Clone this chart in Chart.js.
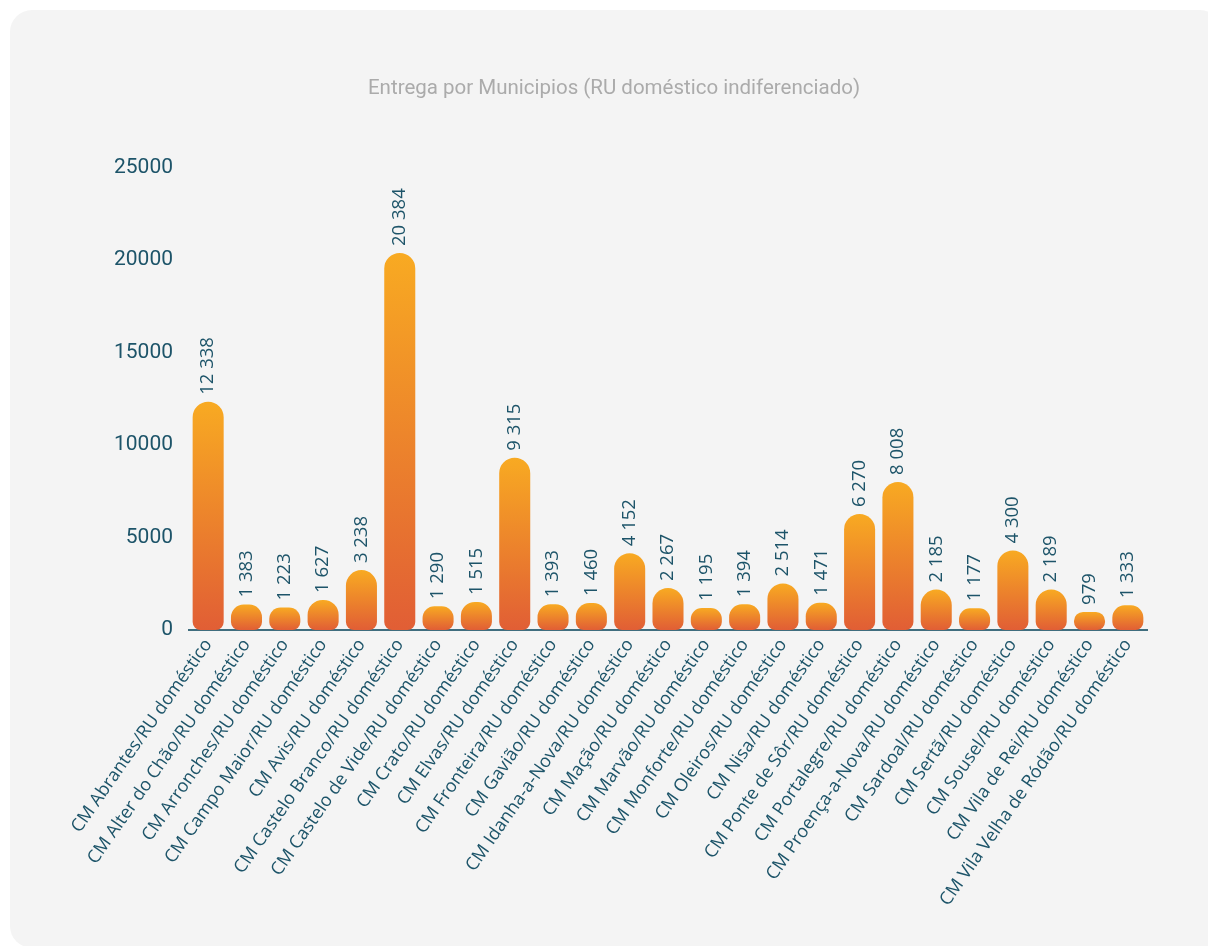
<!DOCTYPE html>
<html>
<head>
<meta charset="utf-8">
<script src="https://cdn.jsdelivr.net/npm/chart.js@4"></script>
<style>
  html, body { margin: 0; padding: 0; background: #ffffff; overflow: hidden; }
  #card {
    position: absolute; left: 10px; top: 10px; width: 1212px; height: 938px;
    background: #f4f4f4; border-radius: 22px;
  }
  #wrap { position: absolute; left: 0; top: 0; width: 1208px; height: 946px; }
</style>
</head>
<body>
<div id="card"></div>
<div id="wrap"><canvas id="chart" width="1208" height="946"></canvas></div>
<script>
// Chart data
const categories = [
    'CM Abrantes/RU doméstico', 'CM Alter do Chão/RU doméstico', 'CM Arronches/RU doméstico',
    'CM Campo Maior/RU doméstico', 'CM Avis/RU doméstico', 'CM Castelo Branco/RU doméstico',
    'CM Castelo de Vide/RU doméstico', 'CM Crato/RU doméstico', 'CM Elvas/RU doméstico',
    'CM Fronteira/RU doméstico', 'CM Gavião/RU doméstico', 'CM Idanha-a-Nova/RU doméstico',
    'CM Mação/RU doméstico', 'CM Marvão/RU doméstico', 'CM Monforte/RU doméstico',
    'CM Oleiros/RU doméstico', 'CM Nisa/RU doméstico', 'CM Ponte de Sôr/RU doméstico',
    'CM Portalegre/RU doméstico', 'CM Proença-a-Nova/RU doméstico', 'CM Sardoal/RU doméstico',
    'CM Sertã/RU doméstico', 'CM Sousel/RU doméstico', 'CM Vila de Rei/RU doméstico',
    'CM Vila Velha de Ródão/RU doméstico'
];
const values = [
    12338, 1383, 1223, 1627, 3238, 20384, 1290, 1515, 9315, 1393, 1460, 4152, 2267,
    1195, 1394, 2514, 1471, 6270, 8008, 2185, 1177, 4300, 2189, 979, 1333
];
const yTicks = [0, 5000, 10000, 15000, 20000, 25000];

const TEAL = '#1d5469';
const AXIS = '#3f6d7e';

function fmt(v) {
    return String(v).replace(/\B(?=(\d{3})+(?!\d))/g, ' ');
}

// Vertical gradient per bar, yellow at the top to red-orange at the base
function barGradient(c) {
    const chart = c.chart;
    const y = chart.scales.y;
    if (!y || c.dataIndex === undefined) return '#ee8a2c';
    const top = y.getPixelForValue(values[c.dataIndex]);
    const bottom = y.getPixelForValue(0);
    if (!isFinite(top) || !isFinite(bottom) || top === bottom) return '#ee8a2c';
    const g = chart.ctx.createLinearGradient(0, top, 0, bottom);
    g.addColorStop(0, '#f8aa22');
    g.addColorStop(1, '#e15e35');
    return g;
}

// Rotated value labels above each bar
const valueLabels = {
    id: 'valueLabels',
    afterDatasetsDraw(chart) {
        const ctx = chart.ctx;
        const meta = chart.getDatasetMeta(0);
        ctx.save();
        ctx.fillStyle = TEAL;
        ctx.font = '18.5px "Open Sans"';
        ctx.textAlign = 'left';
        ctx.textBaseline = 'middle';
        meta.data.forEach((bar, i) => {
            ctx.save();
            ctx.translate(bar.x, bar.y - 7);
            ctx.rotate(-Math.PI / 2);
            ctx.fillText(fmt(values[i]), 0, 0);
            ctx.restore();
        });
        ctx.restore();
    }
};

function draw() {
    new Chart(document.getElementById('chart'), {
        type: 'bar',
        data: {
            labels: categories,
            datasets: [{
                data: values,
                backgroundColor: barGradient,
                borderWidth: 0,
                borderSkipped: false,
                borderRadius: { topLeft: 16, topRight: 16, bottomLeft: 8, bottomRight: 8 },
                barPercentage: 0.9,
                categoryPercentage: 0.9
            }]
        },
        options: {
            responsive: false,
            animation: false,
            layout: { padding: { left: 81, right: 61, top: 0, bottom: 0 } },
            plugins: {
                legend: { display: false },
                tooltip: { enabled: false },
                title: {
                    display: true,
                    text: 'Entrega por Municipios (RU doméstico indiferenciado)',
                    color: '#ababab',
                    font: { family: 'Roboto', size: 20.5, weight: 'normal' },
                    padding: { top: 77, bottom: 66 }
                }
            },
            scales: {
                x: {
                    grid: { display: false, drawTicks: false },
                    border: { display: true, color: AXIS, width: 2 },
                    afterFit(axis) { axis.height = 316; },
                    ticks: {
                        color: TEAL,
                        font: { family: 'Open Sans', size: 18 },
                        minRotation: 55,
                        maxRotation: 55,
                        autoSkip: false,
                        padding: 5
                    }
                },
                y: {
                    min: 0,
                    max: 25000,
                    grid: { display: false, drawTicks: false },
                    border: { display: false },
                    afterBuildTicks(axis) {
                        axis.ticks = yTicks.map(v => ({ value: v }));
                    },
                    afterFit(axis) { axis.width = 108; },
                    ticks: {
                        color: TEAL,
                        font: { family: 'Roboto', size: 21 },
                        padding: 16,
                        callback: v => String(v)
                    }
                }
            }
        },
        plugins: [valueLabels]
    });
}

Promise.all([
    document.fonts.load('18px "Open Sans"'),
    document.fonts.load('21px Roboto')
]).then(draw, draw);
</script>
</body>
</html>
